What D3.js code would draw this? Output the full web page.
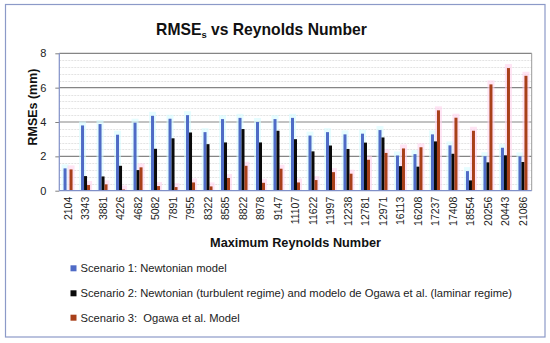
<!DOCTYPE html>
<html><head><meta charset="utf-8">
<script src="https://cdn.jsdelivr.net/npm/d3@7"></script>
<style>body{margin:0;background:#fff} svg{display:block} text{white-space:pre}</style>
</head><body><svg id="c" width="550" height="343"></svg>
<script>
const categories = ["2104","3343","3881","4226","4682","5082","7891","7955","8322","8585","8822","8978","9147","11107","11622","11997","12238","12781","12971","16113","16208","17237","17408","18554","20256","20443","21086"];
const scenario1 = [1.30,3.80,3.88,3.26,3.96,4.36,4.19,4.40,3.41,4.17,4.24,4.00,4.17,4.24,3.21,3.41,3.28,3.32,3.53,2.05,2.13,3.28,2.64,1.14,2.01,2.50,2.00];
const scenario2 = [0.00,0.85,0.83,1.45,1.20,2.44,3.05,3.39,2.71,2.81,3.59,2.81,3.49,3.00,2.29,2.63,2.43,2.80,3.10,1.43,1.40,2.87,2.15,0.60,1.65,2.06,1.67];
const scenario3 = [1.24,0.33,0.37,0.07,1.36,0.27,0.21,0.48,0.25,0.74,1.45,0.46,1.28,0.48,0.62,1.08,0.99,1.80,2.20,2.46,2.53,4.68,4.25,3.49,6.19,7.14,6.69];
const seriesNames = ["Scenario 1: Newtonian model","Scenario 2: Newtonian (turbulent regime) and modelo de Ogawa et al. (laminar regime)","Scenario 3:  Ogawa et al. Model"];
const yTicks = [0,2,4,6,8];
const titleMain = "RMSE", titleSub = "s", titleRest = " vs Reynolds Number";
const yTitle = "RMSEs (mm)", xTitle = "Maximum Reynolds Number";

const colors = ["#4f6bc6","#0a0a0a","#a8401a"];
const glow = ["#d6fbff","#ffe0f2","#ffd2ec"];
const series = [scenario1, scenario2, scenario3];
const font = "'Liberation Sans', Arial, sans-serif";

const svg = d3.select("#c");
function fitText(sel, w){ const n=sel.node(); const cur=n.getComputedTextLength(); const fs=parseFloat(sel.attr("font-size")); sel.attr("font-size", fs*w/cur); }

// outer frame
svg.append("rect").attr("x",5.5).attr("y",4.5).attr("width",539.5).attr("height",332.5)
  .attr("fill","#fff").attr("stroke","#8c9ac8").attr("stroke-width",1.2);

const L=59.3, R=531.7, T=53.3, B=190.7;
const x = d3.scaleBand().domain(categories).range([L,R]).padding(0);
const y = d3.scaleLinear().domain([0,8]).range([B,T]);
const sub = d3.scaleBand().domain([0,1,2]).range([0,9]);

// minor grid
const minor = d3.range(0,8.01,0.4).filter(v=>Math.abs(v/2-Math.round(v/2))>1e-6);
svg.append("g").selectAll("line").data(minor).join("line")
  .attr("x1",L).attr("x2",R).attr("y1",d=>Math.round(y(d))+0.5).attr("y2",d=>Math.round(y(d))+0.5)
  .attr("stroke","#e3e3e3").attr("stroke-width",1).attr("stroke-dasharray","2,1");

// y axis with major grid
const ya = svg.append("g").attr("transform",`translate(${L},0)`)
  .call(d3.axisLeft(y).tickValues(yTicks).tickSize(4).tickFormat(d3.format("d")));
ya.select(".domain").remove();
ya.selectAll(".tick line").attr("stroke","#808080");
ya.selectAll(".tick text").attr("font-family",font).attr("font-size",11).attr("fill","#222").attr("x",-13);
svg.append("g").selectAll("line").data(yTicks.slice(1)).join("line")
  .attr("x1",L).attr("x2",R).attr("y1",d=>y(d)).attr("y2",d=>y(d))
  .attr("stroke","#858585").attr("stroke-width",1.2);
// plot border right
svg.append("line").attr("x1",R).attr("x2",R).attr("y1",T).attr("y2",B).attr("stroke","#9a9a9a");

// bars
const data = [];
categories.forEach((c,i)=>series.forEach((s,j)=>data.push({c,j,v:s[i]})));
const gx = d=> x(d.c) + (x.bandwidth()-9)/2 + sub(d.j);
svg.append("g").selectAll("rect").data(data.filter(d=>d.v>0 && d.j!==1)).join("rect")
  .attr("x",d=>gx(d)-2).attr("width",sub.bandwidth()+4)
  .attr("y",d=>y(d.v)-4).attr("height",d=>B-y(d.v)+4)
  .attr("fill",d=>glow[d.j]).attr("opacity",0.6);
svg.append("g").selectAll("rect").data(data).join("rect")
  .attr("x",gx).attr("width",sub.bandwidth())
  .attr("y",d=>y(d.v)).attr("height",d=>B-y(d.v))
  .attr("fill",d=>colors[d.j]);

// axes lines
svg.append("line").attr("x1",L).attr("x2",L).attr("y1",T).attr("y2",B).attr("stroke","#8090c8").attr("stroke-width",1.2);
svg.append("line").attr("x1",L).attr("x2",R).attr("y1",B).attr("y2",B).attr("stroke","#8090c8").attr("stroke-width",1.2);

// x labels
const xa = svg.append("g").attr("transform",`translate(0,${B})`)
  .call(d3.axisBottom(x).tickSize(0));
xa.select(".domain").remove();
xa.selectAll(".tick text").attr("font-family",font).attr("font-size",10.5).attr("fill","#222")
  .attr("transform","rotate(-90)").attr("text-anchor","end").attr("x",-6).attr("y",0).attr("dy","0.35em");

// titles
const t = svg.append("text").attr("x",261.5).attr("y",35).attr("text-anchor","middle")
  .attr("font-family",font).attr("font-weight","bold").attr("font-size",16).attr("fill","#111");
t.append("tspan").text(titleMain);
t.append("tspan").text(titleSub).attr("font-size","60%").attr("dy",3);
t.append("tspan").text(titleRest).attr("dy",-3);
fitText(t, 211);

const yt = svg.append("text").attr("transform","translate(37,107) rotate(-90)").attr("text-anchor","middle")
  .attr("font-family",font).attr("font-weight","bold").attr("font-size",12).attr("fill","#111").text(yTitle);
fitText(yt, 77);
const xt = svg.append("text").attr("x",295.5).attr("y",246.5).attr("text-anchor","middle")
  .attr("font-family",font).attr("font-weight","bold").attr("font-size",14).attr("fill","#111").text(xTitle);
fitText(xt, 171);

// legend
const legY = [268.3, 293.3, 317.7];
const lg = svg.append("g");
seriesNames.forEach((n,i)=>{
  lg.append("rect").attr("x",70.5).attr("y",legY[i]-3).attr("width",6).attr("height",6).attr("fill",colors[i]);
  const tx = lg.append("text").attr("x",80.5).attr("y",legY[i]).attr("dy","0.35em")
    .attr("font-family",font).attr("font-size",11).attr("fill","#222").text(n);
  if(i===1) fitText(tx, 432);
});
const fsLeg = lg.selectAll("text").filter((d,i)=>i===1).attr("font-size");
lg.selectAll("text").attr("font-size",fsLeg);
</script></body></html>
